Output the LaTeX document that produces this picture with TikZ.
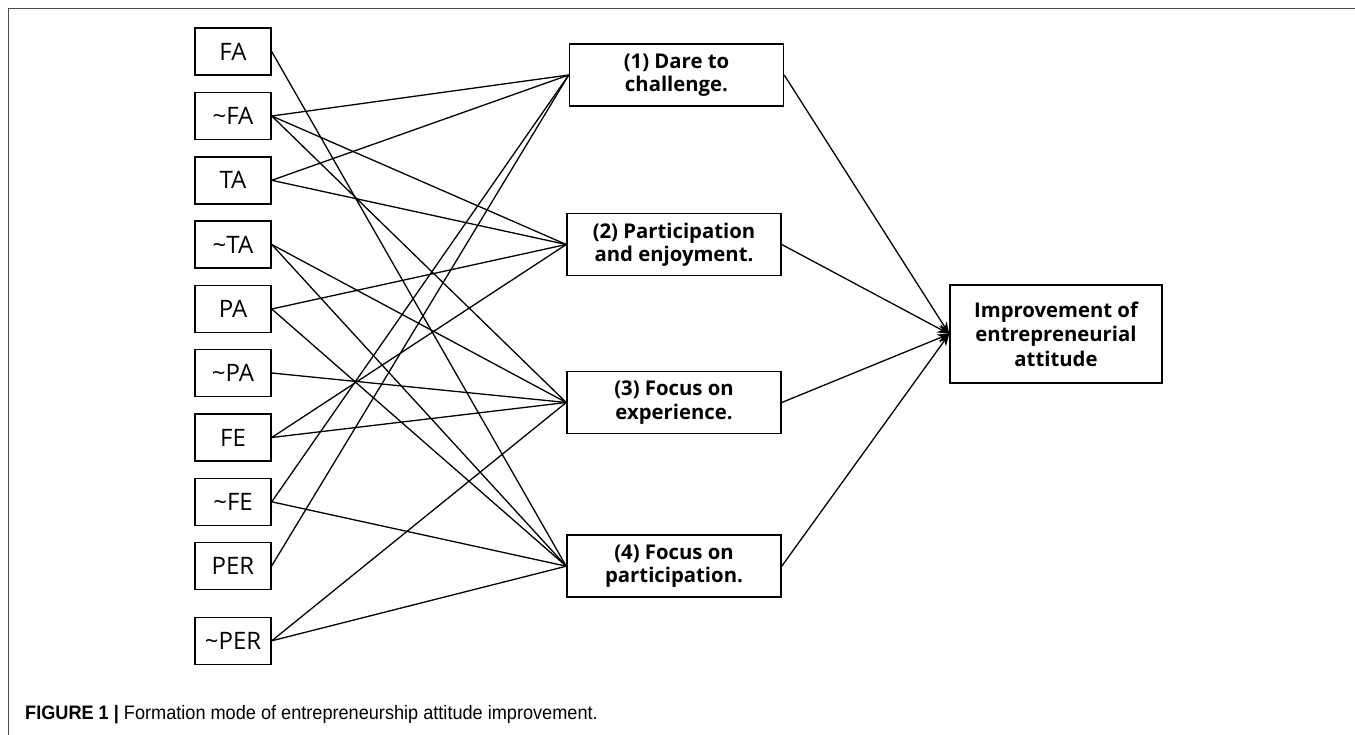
\documentclass[tikz,border=0pt]{standalone}
\usepackage{fontspec}
\setmainfont{Open Sans}
\newfontfamily\capfont[FakeStretch=0.93]{Liberation Sans}
\usetikzlibrary{arrows.meta}
\begin{document}
\begin{tikzpicture}[x=1pt,y=-1pt,
  leftbox/.style={draw,line width=1.5pt,minimum width=76pt,minimum height=47pt,inner sep=0pt,font=\fontsize{24}{28}\selectfont},
  midbox/.style={draw,line width=1.5pt,minimum width=214pt,minimum height=62pt,inner sep=0pt,align=center,font=\bfseries\fontsize{20.3}{23.5}\selectfont},
  endbox/.style={draw,line width=1.5pt,minimum width=212pt,minimum height=98pt,inner sep=0pt,align=center,font=\bfseries\fontsize{20.3}{24.5}\selectfont},
  link/.style={line width=1.3pt},
  arr/.style={line width=1.3pt,-{Stealth[length=12pt,width=9pt]}},
  frame/.style={line width=1pt,draw=black!70}]
\useasboundingbox (0,0) rectangle (1355,735);
\draw[frame] (8,735) -- (8,8.7) -- (1355,8.7);
% left column
\node[leftbox] (fa)   at (233,51.7)  {FA};
\node[leftbox] (nfa)  at (233,116)   {\textasciitilde FA};
\node[leftbox] (ta)   at (233,180.3) {TA};
\node[leftbox] (nta)  at (233,244.5) {\textasciitilde TA};
\node[leftbox] (pa)   at (233,309)   {PA};
\node[leftbox] (npa)  at (233,373)   {\textasciitilde PA};
\node[leftbox] (fe)   at (233,437.5) {FE};
\node[leftbox] (nfe)  at (233,501.8) {\textasciitilde FE};
\node[leftbox] (per)  at (233,565.8) {PER};
\node[leftbox] (nper) at (233,640.8) {\textasciitilde PER};
% middle column
\node[midbox] (m1) at (676.5,75)  {(1) Dare to\\challenge.};
\node[midbox] (m2) at (674,244.5) {(2) Participation\\and enjoyment.};
\node[midbox] (m3) at (674,402.5) {(3) Focus on\\experience.};
\node[midbox] (m4) at (674,566.2) {(4) Focus on\\participation.};
% result
\node[endbox] (res) at (1056,334) {Improvement of\\entrepreneurial\\attitude};
% links
\draw[link] (fa.east)   -- (m4.west);
\draw[link] (nfa.east)  -- (m1.west);
\draw[link] (nfa.east)  -- (m2.west);
\draw[link] (nfa.east)  -- (m3.west);
\draw[link] (ta.east)   -- (m1.west);
\draw[link] (ta.east)   -- (m2.west);
\draw[link] (nta.east)  -- (m3.west);
\draw[link] (nta.east)  -- (m4.west);
\draw[link] (pa.east)   -- (m2.west);
\draw[link] (pa.east)   -- (m4.west);
\draw[link] (npa.east)  -- (m3.west);
\draw[link] (fe.east)   -- (m2.west);
\draw[link] (fe.east)   -- (m3.west);
\draw[link] (nfe.east)  -- (m1.west);
\draw[link] (nfe.east)  -- (m4.west);
\draw[link] (per.east)  -- (m1.west);
\draw[link] (nper.east) -- (m3.west);
\draw[link] (nper.east) -- (m4.west);
% arrows to result
\draw[arr] (m1.east) -- (res.west);
\draw[arr] (m2.east) -- (res.west);
\draw[arr] (m3.east) -- (res.west);
\draw[arr] (m4.east) -- (res.west);
% caption
\node[anchor=base west,inner sep=0pt,font=\capfont\fontsize{19.5}{22}\selectfont] (cap) at (25,719)
  {\textbf{FIGURE 1 |} Formation mode of entrepreneurship attitude improvement.};
\end{tikzpicture}
\end{document}
